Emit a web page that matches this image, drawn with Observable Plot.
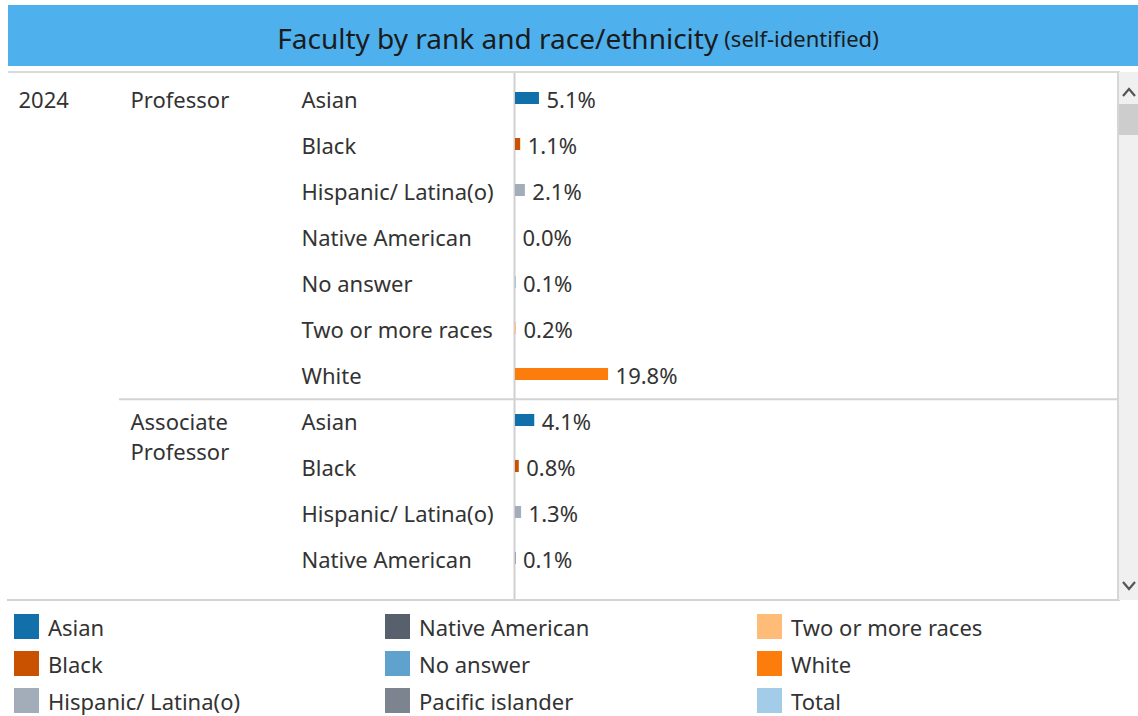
<!DOCTYPE html>
<html>
<head>
<meta charset="utf-8">
<script src="https://cdn.jsdelivr.net/npm/d3@7"></script>
<script src="https://cdn.jsdelivr.net/npm/@observablehq/plot@0.6"></script>
<style>
  html, body { margin: 0; padding: 0; background: #fff; }
  body { width: 1138px; height: 716px; position: relative; overflow: hidden; font-family: "Noto Sans", sans-serif; color: #333; }
  #title { position: absolute; left: 8px; top: 5px; width: 1130px; height: 61px; background: #4eb0ec;
           display: flex; align-items: center; justify-content: center; padding-left: 10px; padding-top: 4px; box-sizing: border-box; white-space: nowrap; }
  #title .main { font-size: 28px; color: #1b1b1b; }
  #title .sub { font-size: 22px; color: #1b1b1b; margin-left: 6px; }
  #chart { position: absolute; left: 8px; top: 72px; width: 1110px; height: 528px; }
  .bt { position: absolute; left: 8px; top: 71px; width: 1112px; height: 2px; background: #d9d9d9; }
  .bb { position: absolute; left: 7px; top: 599px; width: 1113px; height: 2px; background: #d3d3d3; }
  .br { position: absolute; left: 1117px; top: 72px; width: 2px; height: 528px; background: #d6d6d6; }
  #scroll { position: absolute; left: 1119px; top: 72px; width: 19px; height: 528px; background: #f0f0f0; }
  #thumb { position: absolute; left: 0; top: 32px; width: 19px; height: 31px; background: #cdcdcd; }
  #scroll svg { position: absolute; left: 0; }
  #legend { position: absolute; left: 14px; top: 608px; display: grid; grid-auto-flow: column;
            grid-template-rows: repeat(3, 37px); grid-template-columns: 371px 372px 360px; }
  .item { display: flex; align-items: center; font-size: 22px; color: #333; }
  .sw { width: 25px; height: 25px; margin-right: 9px; flex: none; }
</style>
</head>
<body>
<div id="title"><span class="main">Faculty by rank and race/ethnicity</span><span class="sub">(self-identified)</span></div>
<div id="chart"></div>
<div class="bt"></div>
<div class="bb"></div>
<div class="br"></div>
<div id="scroll">
  <svg width="19" height="30" style="top:6px"><polyline points="4,18 10,11 16,18" fill="none" stroke="#555" stroke-width="2.2"/></svg>
  <div id="thumb"></div>
  <svg width="19" height="30" style="top:500px"><polyline points="4,10 10,17 16,10" fill="none" stroke="#555" stroke-width="2.2"/></svg>
</div>
<div id="legend"></div>
<script>
// ---- data ----
const year = "2024";
const ranks = ["Professor", "Associate Professor"];
const rankLabels = ["Professor", "Associate\nProfessor"];
const races = ["Asian", "Black", "Hispanic/ Latina(o)", "Native American", "No answer", "Two or more races", "White"];
const professorValues = [5.1, 1.1, 2.1, 0.0, 0.1, 0.2, 19.8];
const associateValues = [4.1, 0.8, 1.3, 0.1];
const legendLabels = ["Asian", "Black", "Hispanic/ Latina(o)", "Native American", "No answer", "Pacific islander", "Two or more races", "White", "Total"];
const palette = ["#1170aa", "#c85200", "#a3acb9", "#57606c", "#5fa2ce", "#7b848f", "#ffbc79", "#fc7d0b", "#a3cce9"];

// ---- build rows ----
const rows = [];
[professorValues, associateValues].forEach((vals, r) => {
  vals.forEach((v, i) => rows.push({key: ranks[r] + "|" + races[i], year, rank: ranks[r], rankLabel: rankLabels[r], race: races[i], value: v, first: i === 0}));
});
const firstRows = rows.filter(d => d.first);
const fmt = d3.format(".1f");
const yRange = [1.5, 513.5];
const band = (yRange[1] - yRange[0]) / rows.length;

const plot = Plot.plot({
  width: 1110,
  height: 528,
  marginTop: 0, marginBottom: 0, marginLeft: 0, marginRight: 0,
  style: {fontFamily: "Noto Sans", fontSize: "22px", color: "#333", background: "transparent", overflow: "visible"},
  x: {domain: [0, 20], range: [507, 601], axis: null},
  y: {type: "band", domain: rows.map(d => d.key), range: yRange, padding: 0, axis: null},
  color: {domain: legendLabels, range: palette},
  marks: [
    Plot.ruleX([0], {dx: -1, stroke: "#d0d0d0", strokeWidth: 2, strokeOpacity: 1}),
    Plot.ruleY(firstRows.slice(1), {y: "key", dy: -band / 2, insetLeft: 111, stroke: "#d3d3d3", strokeWidth: 2}),
    Plot.barX(rows, {x: "value", y: "key", fill: "race", insetTop: 17, insetBottom: 17, dy: -2}),
    Plot.text(rows, {x: "value", y: "key", text: d => fmt(d.value) + "%", textAnchor: "start", dx: 7, fill: "#333"}),
    Plot.text(rows, {y: "key", text: "race", frameAnchor: "left", textAnchor: "start", dx: 293, fill: "#333"}),
    Plot.text(firstRows, {y: "key", text: "rankLabel", frameAnchor: "left", textAnchor: "start", dx: 122, lineAnchor: "top", lineHeight: 1.36, dy: -14, fill: "#333"}),
    Plot.text(rows.slice(0, 1), {y: "key", text: "year", frameAnchor: "left", textAnchor: "start", dx: 10, fill: "#333"})
  ]
});
document.getElementById("chart").appendChild(plot);

// ---- legend ----
const color = plot.scale("color");
const legend = document.getElementById("legend");
legendLabels.forEach((label, i) => {
  const item = document.createElement("div");
  item.className = "item";
  const sw = document.createElement("div");
  sw.className = "sw";
  sw.style.background = color.range[i];
  const t = document.createElement("span");
  t.textContent = label;
  item.appendChild(sw);
  item.appendChild(t);
  legend.appendChild(item);
});
</script>
</body>
</html>
